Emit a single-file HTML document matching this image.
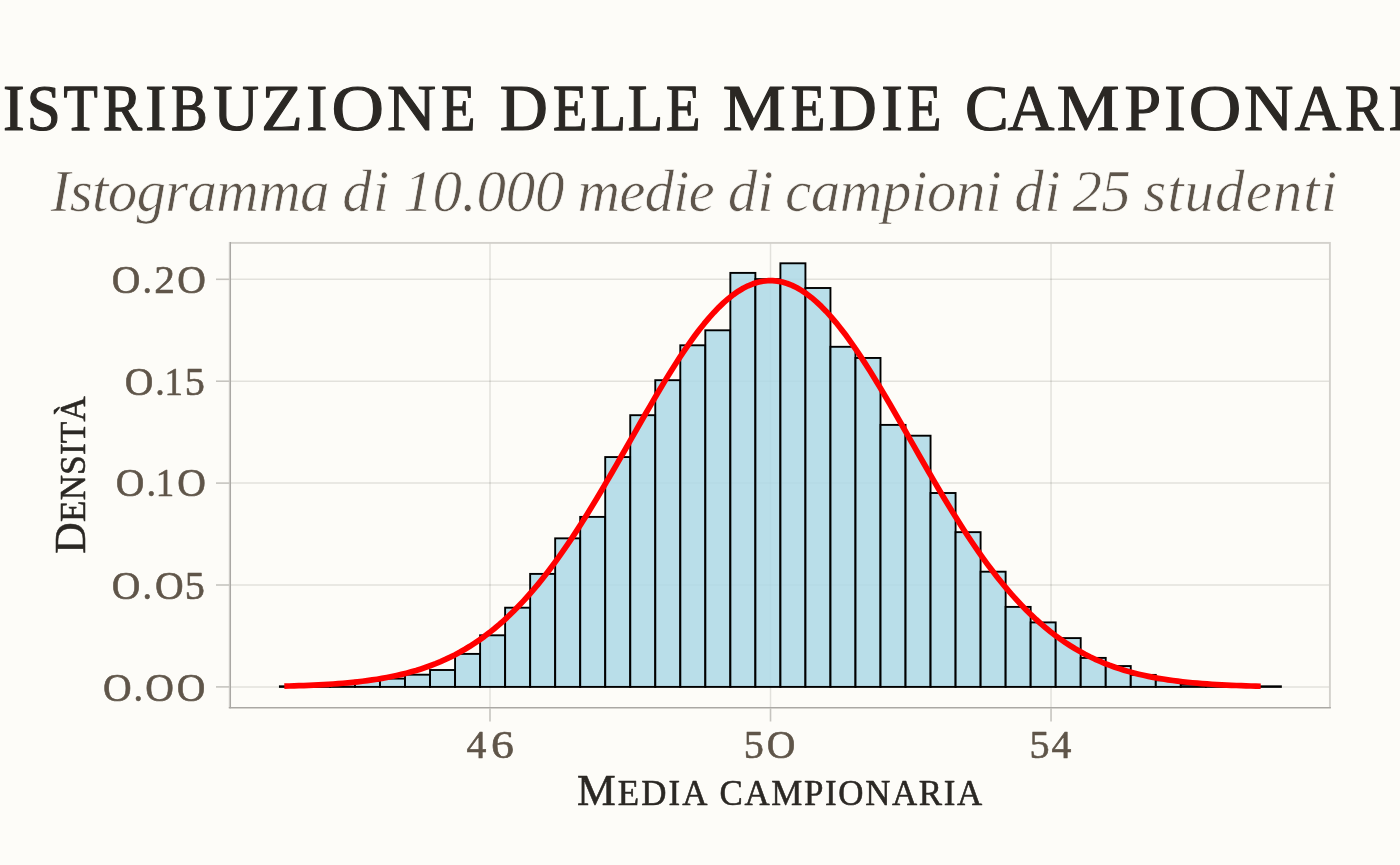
<!DOCTYPE html>
<html><head><meta charset="utf-8"><title>Distribuzione delle medie campionarie</title>
<style>
html,body{margin:0;padding:0;background:#FDFCF8;}
body{width:1400px;height:865px;overflow:hidden;font-family:"Liberation Serif",serif;}
svg{display:block;position:absolute;left:0;top:0;will-change:transform;}
text{font-family:"Liberation Serif",serif;font-kerning:none;font-variant-ligatures:none;white-space:pre;}
.ttl2 text{fill:#2b2824;}
.sub{font-style:italic;fill:#5e554b;stroke-linejoin:round;}
.tick{fill:#5f5549;stroke:#5f5549;stroke-width:0.6px;stroke-linejoin:round;}
.axl{fill:#2b2824;stroke:#2b2824;stroke-width:0.55px;stroke-linejoin:round;}
</style></head><body>
<svg width="1400" height="865" viewBox="0 0 1400 865">
<rect x="0" y="0" width="1400" height="865" fill="#FDFCF8"/>

<line x1="229.75" x2="1329.9" y1="686.90" y2="686.90" stroke="#14140a" stroke-opacity="0.115" stroke-width="1.5"/>
<line x1="229.75" x2="1329.9" y1="585.00" y2="585.00" stroke="#14140a" stroke-opacity="0.115" stroke-width="1.5"/>
<line x1="229.75" x2="1329.9" y1="483.10" y2="483.10" stroke="#14140a" stroke-opacity="0.115" stroke-width="1.5"/>
<line x1="229.75" x2="1329.9" y1="381.20" y2="381.20" stroke="#14140a" stroke-opacity="0.115" stroke-width="1.5"/>
<line x1="229.75" x2="1329.9" y1="279.30" y2="279.30" stroke="#14140a" stroke-opacity="0.115" stroke-width="1.5"/>
<line x1="490.00" x2="490.00" y1="242.9" y2="708.0" stroke="#14140a" stroke-opacity="0.115" stroke-width="1.5"/>
<line x1="770.52" x2="770.52" y1="242.9" y2="708.0" stroke="#14140a" stroke-opacity="0.115" stroke-width="1.5"/>
<line x1="1051.04" x2="1051.04" y1="242.9" y2="708.0" stroke="#14140a" stroke-opacity="0.115" stroke-width="1.5"/>
<g fill="#ADD8E6" fill-opacity="0.85" stroke="#000" stroke-width="1.9" stroke-linejoin="miter">
<rect x="279.90" y="686.30" width="25.025" height="0.60"/>
<rect x="304.92" y="685.60" width="25.025" height="1.30"/>
<rect x="329.95" y="684.20" width="25.025" height="2.70"/>
<rect x="354.97" y="680.80" width="25.025" height="6.10"/>
<rect x="380.00" y="678.60" width="25.025" height="8.30"/>
<rect x="405.02" y="674.70" width="25.025" height="12.20"/>
<rect x="430.05" y="670.00" width="25.025" height="16.90"/>
<rect x="455.07" y="653.90" width="25.025" height="33.00"/>
<rect x="480.10" y="635.30" width="25.025" height="51.60"/>
<rect x="505.12" y="607.70" width="25.025" height="79.20"/>
<rect x="530.15" y="573.90" width="25.025" height="113.00"/>
<rect x="555.17" y="538.35" width="25.025" height="148.55"/>
<rect x="580.20" y="516.90" width="25.025" height="170.00"/>
<rect x="605.22" y="457.06" width="25.025" height="229.84"/>
<rect x="630.25" y="415.20" width="25.025" height="271.70"/>
<rect x="655.27" y="380.20" width="25.025" height="306.70"/>
<rect x="680.30" y="345.30" width="25.025" height="341.60"/>
<rect x="705.32" y="330.30" width="25.025" height="356.60"/>
<rect x="730.35" y="272.90" width="25.025" height="414.00"/>
<rect x="755.38" y="279.10" width="25.025" height="407.80"/>
<rect x="780.40" y="263.30" width="25.025" height="423.60"/>
<rect x="805.42" y="288.00" width="25.025" height="398.90"/>
<rect x="830.45" y="346.80" width="25.025" height="340.10"/>
<rect x="855.47" y="357.96" width="25.025" height="328.94"/>
<rect x="880.50" y="424.90" width="25.025" height="262.00"/>
<rect x="905.52" y="435.70" width="25.025" height="251.20"/>
<rect x="930.55" y="493.00" width="25.025" height="193.90"/>
<rect x="955.57" y="532.15" width="25.025" height="154.75"/>
<rect x="980.60" y="571.70" width="25.025" height="115.20"/>
<rect x="1005.62" y="606.90" width="25.025" height="80.00"/>
<rect x="1030.65" y="622.40" width="25.025" height="64.50"/>
<rect x="1055.67" y="638.10" width="25.025" height="48.80"/>
<rect x="1080.70" y="657.90" width="25.025" height="29.00"/>
<rect x="1105.72" y="666.05" width="25.025" height="20.85"/>
<rect x="1130.75" y="674.90" width="25.025" height="12.00"/>
<rect x="1155.78" y="680.30" width="25.025" height="6.60"/>
<rect x="1180.80" y="684.70" width="25.025" height="2.20"/>
<rect x="1205.82" y="685.80" width="25.025" height="1.10"/>
<rect x="1230.85" y="686.20" width="25.025" height="0.70"/>
<rect x="1255.88" y="686.30" width="25.025" height="0.60"/>
</g>
<polyline points="284.31,686.15 289.19,686.02 294.07,685.88 298.96,685.72 303.84,685.55 308.72,685.35 313.60,685.13 318.48,684.89 323.37,684.63 328.25,684.33 333.13,684.01 338.01,683.65 342.89,683.25 347.78,682.82 352.66,682.34 357.54,681.82 362.42,681.25 367.30,680.63 372.19,679.94 377.07,679.20 381.95,678.39 386.83,677.51 391.71,676.55 396.60,675.51 401.48,674.39 406.36,673.18 411.24,671.86 416.13,670.45 421.01,668.92 425.89,667.28 430.77,665.52 435.65,663.64 440.54,661.61 445.42,659.45 450.30,657.14 455.18,654.68 460.06,652.06 464.95,649.27 469.83,646.31 474.71,643.17 479.59,639.85 484.47,636.34 489.36,632.64 494.24,628.73 499.12,624.62 504.00,620.31 508.89,615.78 513.77,611.04 518.65,606.08 523.53,600.90 528.41,595.51 533.30,589.89 538.18,584.06 543.06,578.00 547.94,571.74 552.82,565.26 557.71,558.57 562.59,551.68 567.47,544.59 572.35,537.31 577.23,529.85 582.12,522.23 587.00,514.44 591.88,506.50 596.76,498.42 601.65,490.23 606.53,481.92 611.41,473.53 616.29,465.06 621.17,456.53 626.06,447.97 630.94,439.39 635.82,430.81 640.70,422.26 645.58,413.75 650.47,405.31 655.35,396.97 660.23,388.73 665.11,380.64 669.99,372.71 674.88,364.96 679.76,357.42 684.64,350.11 689.52,343.06 694.41,336.29 699.29,329.81 704.17,323.66 709.05,317.85 713.93,312.40 718.82,307.33 723.70,302.66 728.58,298.40 733.46,294.57 738.34,291.19 743.23,288.25 748.11,285.78 752.99,283.79 757.87,282.28 762.75,281.25 767.64,280.71 772.52,280.67 777.40,281.12 782.28,282.05 787.17,283.48 792.05,285.39 796.93,287.77 801.81,290.62 806.69,293.93 811.58,297.68 816.46,301.86 821.34,306.45 826.22,311.45 831.10,316.84 835.99,322.58 840.87,328.67 845.75,335.09 850.63,341.81 855.51,348.82 860.40,356.08 865.28,363.58 870.16,371.29 875.04,379.19 879.92,387.26 884.81,395.47 889.69,403.79 894.57,412.22 899.45,420.71 904.34,429.26 909.22,437.84 914.10,446.42 918.98,454.98 923.86,463.52 928.75,472.00 933.63,480.41 938.51,488.73 943.39,496.95 948.27,505.04 953.16,513.01 958.04,520.83 962.92,528.48 967.80,535.97 972.68,543.28 977.57,550.41 982.45,557.33 987.33,564.06 992.21,570.58 997.10,576.88 1001.98,582.98 1006.86,588.85 1011.74,594.51 1016.62,599.94 1021.51,605.16 1026.39,610.16 1031.27,614.94 1036.15,619.50 1041.03,623.86 1045.92,628.00 1050.80,631.94 1055.68,635.68 1060.56,639.23 1065.44,642.58 1070.33,645.75 1075.21,648.75 1080.09,651.56 1084.97,654.22 1089.86,656.71 1094.74,659.04 1099.62,661.23 1104.50,663.28 1109.38,665.19 1114.27,666.97 1119.15,668.64 1124.03,670.18 1128.91,671.61 1133.79,672.95 1138.68,674.18 1143.56,675.32 1148.44,676.37 1153.32,677.34 1158.20,678.24 1163.09,679.06 1167.97,679.81 1172.85,680.51 1177.73,681.14 1182.62,681.72 1187.50,682.25 1192.38,682.74 1197.26,683.18 1202.14,683.58 1207.03,683.94 1211.91,684.27 1216.79,684.57 1221.67,684.85 1226.55,685.09 1231.44,685.31 1236.32,685.51 1241.20,685.69 1246.08,685.85 1250.96,686.00 1255.85,686.13 1260.73,686.25" fill="none" stroke="#FF0000" stroke-width="5.7" stroke-linejoin="round" stroke-linecap="butt"/>
<rect x="229.75" y="242.9" width="1100.15" height="465.1" fill="none" stroke="#d3d1cc" stroke-width="1.9"/>
<line x1="230.45" x2="230.45" y1="241.95000000000002" y2="708.2" stroke="#aaa8a4" stroke-width="1.15"/>
<line x1="228.8" x2="1330.8500000000001" y1="707.5" y2="707.5" stroke="#aaa8a4" stroke-width="1.15"/>
<line x1="216" x2="229.75" y1="686.90" y2="686.90" stroke="#c6c4bf" stroke-width="1.6"/>
<line x1="216" x2="229.75" y1="585.00" y2="585.00" stroke="#c6c4bf" stroke-width="1.6"/>
<line x1="216" x2="229.75" y1="483.10" y2="483.10" stroke="#c6c4bf" stroke-width="1.6"/>
<line x1="216" x2="229.75" y1="381.20" y2="381.20" stroke="#c6c4bf" stroke-width="1.6"/>
<line x1="216" x2="229.75" y1="279.30" y2="279.30" stroke="#c6c4bf" stroke-width="1.6"/>
<line x1="490.00" x2="490.00" y1="708.0" y2="721.5" stroke="#c6c4bf" stroke-width="1.6"/>
<line x1="770.52" x2="770.52" y1="708.0" y2="721.5" stroke="#c6c4bf" stroke-width="1.6"/>
<line x1="1051.04" x2="1051.04" y1="708.0" y2="721.5" stroke="#c6c4bf" stroke-width="1.6"/>
<text class="tick" transform="translate(111.67,292.6) scale(0.9870,1.0)" font-size="40.2">O</text><text class="tick" transform="translate(142.39,292.6) scale(0.9473,1.0)" font-size="40.2">.</text><text class="tick" transform="translate(154.18,292.6) scale(1.0301,1.0)" font-size="40.2">2</text><text class="tick" transform="translate(177.17,292.6) scale(0.9870,1.0)" font-size="40.2">O</text>
<text class="tick" transform="translate(124.67,394.7) scale(0.9870,1.0)" font-size="40.2">O</text><text class="tick" transform="translate(155.29,394.7) scale(0.9473,1.0)" font-size="40.2">.</text><text class="tick" transform="translate(164.45,394.7) scale(0.9186,1.0)" font-size="40.2">1</text><text class="tick" transform="translate(184.76,394.7) scale(1.0004,1.0)" font-size="40.2">5</text>
<text class="tick" transform="translate(115.87,496.4) scale(0.9870,1.0)" font-size="40.2">O</text><text class="tick" transform="translate(146.49,496.4) scale(0.9473,1.0)" font-size="40.2">.</text><text class="tick" transform="translate(155.65,496.4) scale(0.9186,1.0)" font-size="40.2">1</text><text class="tick" transform="translate(177.17,496.4) scale(0.9870,1.0)" font-size="40.2">O</text>
<text class="tick" transform="translate(111.87,598.6) scale(0.9870,1.0)" font-size="40.2">O</text><text class="tick" transform="translate(142.59,598.6) scale(0.9473,1.0)" font-size="40.2">.</text><text class="tick" transform="translate(155.07,598.6) scale(0.9870,1.0)" font-size="40.2">O</text><text class="tick" transform="translate(184.66,598.6) scale(1.0004,1.0)" font-size="40.2">5</text>
<text class="tick" transform="translate(103.07,700.6) scale(0.9870,1.0)" font-size="40.2">O</text><text class="tick" transform="translate(133.59,700.6) scale(0.9473,1.0)" font-size="40.2">.</text><text class="tick" transform="translate(145.17,700.6) scale(0.9870,1.0)" font-size="40.2">O</text><text class="tick" transform="translate(176.77,700.6) scale(0.9870,1.0)" font-size="40.2">O</text>
<text class="tick" transform="translate(466.62,757.8) scale(0.9900,1.0)" font-size="40.2">4</text><text class="tick" transform="translate(490.93,757.8) scale(1.1412,1.0)" font-size="40.2">6</text>
<text class="tick" transform="translate(743.86,757.8) scale(1.0004,1.0)" font-size="40.2">5</text><text class="tick" transform="translate(766.87,757.8) scale(0.9870,1.0)" font-size="40.2">O</text>
<text class="tick" transform="translate(1029.46,757.8) scale(1.0004,1.0)" font-size="40.2">5</text><text class="tick" transform="translate(1051.52,757.8) scale(0.9900,1.0)" font-size="40.2">4</text>
<g class="ttl2" font-size="66.28" stroke="#2b2824" stroke-width="1.2" stroke-linejoin="round">
<text transform="translate(-49.52,129.5) scale(1.0046,1)" vector-effect="non-scaling-stroke">D</text>
<text transform="translate(2.95,129.5) scale(0.9800,1)" vector-effect="non-scaling-stroke">I</text>
<text transform="translate(26.81,129.5) scale(0.9217,1)" vector-effect="non-scaling-stroke">S</text>
<text transform="translate(63.49,129.5) scale(0.8458,1)" vector-effect="non-scaling-stroke">T</text>
<text transform="translate(102.80,129.5) scale(0.8886,1)" vector-effect="non-scaling-stroke">R</text>
<text transform="translate(145.21,129.5) scale(0.9570,1)" vector-effect="non-scaling-stroke">I</text>
<text transform="translate(170.92,129.5) scale(0.8269,1)" vector-effect="non-scaling-stroke">B</text>
<text transform="translate(213.17,129.5) scale(0.9538,1)" vector-effect="non-scaling-stroke">U</text>
<text transform="translate(261.35,129.5) scale(1.0240,1)" vector-effect="non-scaling-stroke">Z</text>
<text transform="translate(306.21,129.5) scale(0.9570,1)" vector-effect="non-scaling-stroke">I</text>
<text transform="translate(331.62,129.5) scale(1.0960,1)" vector-effect="non-scaling-stroke">O</text>
<text transform="translate(386.94,129.5) scale(1.0240,1)" vector-effect="non-scaling-stroke">N</text>
<text transform="translate(440.88,129.5) scale(0.8504,1)" vector-effect="non-scaling-stroke">E</text>
<text transform="translate(499.68,129.5) scale(1.0046,1)" vector-effect="non-scaling-stroke">D</text>
<text transform="translate(552.88,129.5) scale(0.8476,1)" vector-effect="non-scaling-stroke">E</text>
<text transform="translate(590.62,129.5) scale(0.8787,1)" vector-effect="non-scaling-stroke">L</text>
<text transform="translate(627.83,129.5) scale(0.8729,1)" vector-effect="non-scaling-stroke">L</text>
<text transform="translate(665.88,129.5) scale(0.8504,1)" vector-effect="non-scaling-stroke">E</text>
<text transform="translate(722.86,129.5) scale(1.0675,1)" vector-effect="non-scaling-stroke">M</text>
<text transform="translate(790.87,129.5) scale(0.8561,1)" vector-effect="non-scaling-stroke">E</text>
<text transform="translate(828.68,129.5) scale(1.0046,1)" vector-effect="non-scaling-stroke">D</text>
<text transform="translate(881.17,129.5) scale(0.9743,1)" vector-effect="non-scaling-stroke">I</text>
<text transform="translate(906.87,129.5) scale(0.8561,1)" vector-effect="non-scaling-stroke">E</text>
<text transform="translate(965.01,129.5) scale(0.9886,1)" vector-effect="non-scaling-stroke">C</text>
<text transform="translate(1007.87,129.5) scale(0.9736,1)" vector-effect="non-scaling-stroke">A</text>
<text transform="translate(1056.87,129.5) scale(1.0639,1)" vector-effect="non-scaling-stroke">M</text>
<text transform="translate(1124.40,129.5) scale(0.9939,1)" vector-effect="non-scaling-stroke">P</text>
<text transform="translate(1164.28,129.5) scale(0.9685,1)" vector-effect="non-scaling-stroke">I</text>
<text transform="translate(1188.71,129.5) scale(1.0983,1)" vector-effect="non-scaling-stroke">O</text>
<text transform="translate(1243.93,129.5) scale(1.0330,1)" vector-effect="non-scaling-stroke">N</text>
<text transform="translate(1294.67,129.5) scale(0.9736,1)" vector-effect="non-scaling-stroke">A</text>
<text transform="translate(1345.03,129.5) scale(0.8744,1)" vector-effect="non-scaling-stroke">R</text>
<text transform="translate(1388.28,129.5) scale(0.9685,1)" vector-effect="non-scaling-stroke">I</text>
<text transform="translate(1413.97,129.5) scale(0.8533,1)" vector-effect="non-scaling-stroke">E</text>
</g>
<text class="sub" transform="translate(50.78,210.9) scale(1.0,1)" letter-spacing="-0.710" stroke="#FDFCF8" stroke-width="0.7" ><tspan font-size="59">Istogramma</tspan></text>
<text class="sub" transform="translate(342.16,210.9) scale(1.0,1)" letter-spacing="1.080" stroke="#FDFCF8" stroke-width="0.7" ><tspan font-size="59">di</tspan></text>
<text class="sub" transform="translate(403.25,210.9) scale(1.0,1)" letter-spacing="-0.200" stroke="#FDFCF8" stroke-width="0.7" ><tspan font-size="59">10.000</tspan></text>
<text class="sub" transform="translate(577.52,210.9) scale(1.0,1)" letter-spacing="-0.954" stroke="#FDFCF8" stroke-width="0.7" ><tspan font-size="59">medie</tspan></text>
<text class="sub" transform="translate(727.86,210.9) scale(1.0,1)" letter-spacing="-0.220" stroke="#FDFCF8" stroke-width="0.7" ><tspan font-size="59">di</tspan></text>
<text class="sub" transform="translate(784.94,210.9) scale(1.0,1)" letter-spacing="-0.425" stroke="#FDFCF8" stroke-width="0.7" ><tspan font-size="59">campioni</tspan></text>
<text class="sub" transform="translate(1014.16,210.9) scale(1.0,1)" letter-spacing="0.680" stroke="#FDFCF8" stroke-width="0.7" ><tspan font-size="59">di</tspan></text>
<text class="sub" transform="translate(1072.52,210.9) scale(1.0,1)" letter-spacing="-0.814" stroke="#FDFCF8" stroke-width="0.7" ><tspan font-size="59">25</tspan></text>
<text class="sub" transform="translate(1143.23,210.9) scale(1.0,1)" letter-spacing="1.012" stroke="#FDFCF8" stroke-width="0.7" ><tspan font-size="59">studenti</tspan></text>
<text class="axl" transform="translate(576.94,804.5) scale(1.0,1)" letter-spacing="2.099"><tspan font-size="43.6">M</tspan><tspan font-size="34.9">EDIA</tspan></text>
<text class="axl" transform="translate(719.57,804.5) scale(1.0,1)" letter-spacing="1.643"><tspan font-size="34.9">CAMPIONARIA</tspan></text>
<text class="axl" transform="translate(84.9,553.76) rotate(-90)" letter-spacing="0.325"><tspan font-size="43.6">D</tspan><tspan font-size="34.9">ENSITÀ</tspan></text>
</svg></body></html>
